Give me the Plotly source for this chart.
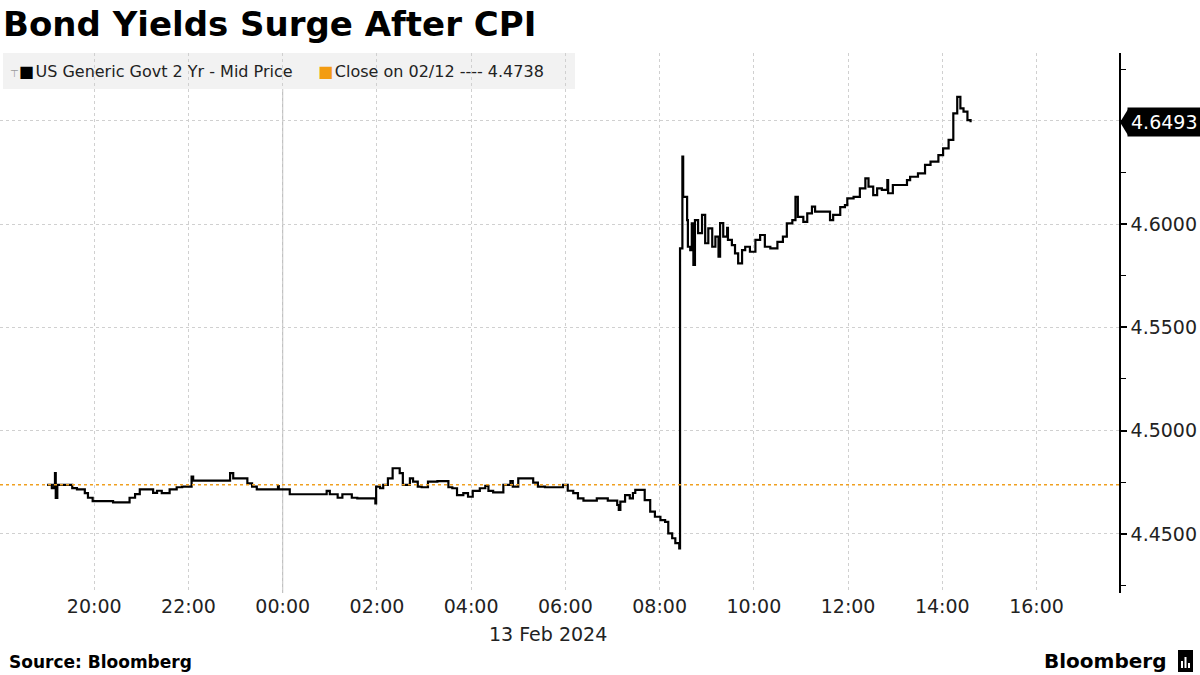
import plotly.graph_objects as go

# ---------------- data ----------------
times = [
    "19:00", "19:06", "19:09", "19:10", "19:11", "19:13", "19:32", "19:38", "19:48", "19:52",
    "19:58", "20:24", "20:45", "20:52", "20:58", "21:15", "21:20", "21:26", "21:36", "21:45",
    "21:52", "22:04", "22:06", "22:53", "22:57", "23:15", "23:21", "23:27", "23:54", "23:55",
    "00:09", "00:56", "01:00", "01:10", "01:16", "01:28", "01:35", "01:58", "01:59", "02:04",
    "02:08", "02:14", "02:20", "02:29", "02:33", "02:42", "02:46", "02:52", "02:57", "03:05",
    "03:17", "03:31", "03:36", "03:42", "03:50", "03:56", "04:02", "04:11", "04:18", "04:22",
    "04:28", "04:41", "04:50", "04:53", "05:00", "05:19", "05:25", "05:34", "05:57", "06:03",
    "06:10", "06:16", "06:23", "06:40", "06:54", "07:06", "07:08", "07:10", "07:16", "07:22",
    "07:26", "07:29", "07:41", "07:48", "07:54", "08:01", "08:07", "08:11", "08:16", "08:20",
    "08:25", "08:26", "08:29", "08:30", "08:35", "08:36", "08:39", "08:41", "08:43", "08:45",
    "08:49", "08:54", "08:58", "09:02", "09:07", "09:11", "09:15", "09:17", "09:21", "09:26",
    "09:27", "09:32", "09:36", "09:40", "09:45", "09:49", "09:55", "10:02", "10:08", "10:14",
    "10:21", "10:30", "10:37", "10:42", "10:49", "10:53", "10:56", "11:03", "11:08", "11:14",
    "11:18", "11:37", "11:41", "11:50", "11:56", "11:59", "12:07", "12:15", "12:22", "12:26",
    "12:32", "12:37", "12:43", "12:50", "12:51", "12:57", "13:15", "13:19", "13:29", "13:38",
    "13:45", "13:55", "14:01", "14:08", "14:14", "14:19", "14:23", "14:27", "14:32", "14:36",
]
yields = [
    4.4737, 4.4722, 4.4737, 4.4795, 4.4674, 4.4737, 4.4722, 4.4716, 4.4697, 4.4675,
    4.4659, 4.4653, 4.4675, 4.4693, 4.4716, 4.4699, 4.4709, 4.4697, 4.4716, 4.4726,
    4.4729, 4.4777, 4.4758, 4.4794, 4.4769, 4.4745, 4.4729, 4.4716, 4.4732, 4.4716,
    4.4692, 4.4708, 4.4692, 4.4675, 4.4692, 4.4675, 4.4672, 4.4648, 4.4729, 4.4721,
    4.4737, 4.4769, 4.4818, 4.4794, 4.4737, 4.4769, 4.4753, 4.4729, 4.4726, 4.4753,
    4.4756, 4.4726, 4.4721, 4.4688, 4.4697, 4.4680, 4.4708, 4.4721, 4.4733, 4.4708,
    4.4701, 4.4737, 4.4756, 4.4729, 4.4769, 4.4748, 4.4729, 4.4726, 4.4737, 4.4709,
    4.4697, 4.4672, 4.4661, 4.4672, 4.4661, 4.4640, 4.4616, 4.4656, 4.4688, 4.4672,
    4.4698, 4.4713, 4.4664, 4.4608, 4.4583, 4.4567, 4.4558, 4.4503, 4.4479, 4.4455,
    4.4430, 4.5882, 4.6326, 4.6132, 4.6019, 4.5890, 4.5874, 4.6003, 4.5802, 4.6019,
    4.5956, 4.6044, 4.5907, 4.5979, 4.5890, 4.5939, 4.5842, 4.6005, 4.5939, 4.5981,
    4.5923, 4.5898, 4.5858, 4.5810, 4.5874, 4.5890, 4.5866, 4.5923, 4.5947, 4.5890,
    4.5882, 4.5914, 4.5939, 4.6003, 4.6019, 4.6132, 4.6035, 4.6011, 4.6052, 4.6084,
    4.6060, 4.6019, 4.6044, 4.6082, 4.6092, 4.6124, 4.6132, 4.6173, 4.6221, 4.6181,
    4.6140, 4.6173, 4.6165, 4.6213, 4.6149, 4.6189, 4.6213, 4.6229, 4.6245, 4.6286,
    4.6302, 4.6334, 4.6366, 4.6407, 4.6536, 4.6616, 4.6560, 4.6544, 4.6503, 4.6493,
]
prev_close = 4.4738
last_value = 4.6493
series_name = "US Generic Govt 2 Yr - Mid Price"
close_label = "Close on 02/12 ---- 4.4738"
x_tick_times = ["2024-02-12 20:00", "2024-02-12 22:00", "2024-02-13 00:00", "2024-02-13 02:00",
                "2024-02-13 04:00", "2024-02-13 06:00", "2024-02-13 08:00", "2024-02-13 10:00",
                "2024-02-13 12:00", "2024-02-13 14:00", "2024-02-13 16:00"]
y_major_ticks = [4.45, 4.50, 4.55, 4.60, 4.65]
x_range = ["2024-02-12 18:00", "2024-02-13 17:45"]
y_range = [4.4214, 4.6828]
date_label = "13 Feb 2024"
title = "Bond Yields Surge After CPI"
source = "Source: Bloomberg"

# timestamps: evening hours belong to 12 Feb, the rest to 13 Feb
stamps = [("2024-02-12 " if int(t[:2]) >= 18 else "2024-02-13 ") + t for t in times]

W, H = 1200, 675
ML, MR, MT, MB = 0, 81, 53, 82
PW, PH = W - ML - MR, H - MT - MB

fig = go.Figure()
fig.add_trace(go.Scatter(
    x=stamps, y=yields, mode="lines", line=dict(color="black", width=2.2, shape="hv"),
    name=series_name, showlegend=False, hoverinfo="x+y",
))

AX_FONT = "DejaVu Sans"
fig.update_layout(
    width=W, height=H,
    margin=dict(l=ML, r=MR, t=MT, b=MB),
    paper_bgcolor="white", plot_bgcolor="white",
    showlegend=False,
    title=dict(text=f"<b>{title}</b>", x=3 / W, xanchor="left", y=1 - 24 / H, yanchor="middle",
               font=dict(family="DejaVu Sans", size=34, color="black")),
    xaxis=dict(
        type="date", range=x_range, tickmode="array", tickvals=x_tick_times,
        tickformat="%H:%M", showgrid=True, gridcolor="#d0d0d0", griddash="dot", gridwidth=1,
        showline=False, zeroline=False, ticks="",
        tickfont=dict(family="DejaVu Sans", size=19, color="#222"),
    ),
    yaxis=dict(
        side="right", range=y_range, tickmode="array", tickvals=y_major_ticks,
        ticktext=[f"{v:.4f}" for v in y_major_ticks],
        showgrid=True, gridcolor="#d0d0d0", griddash="dot", gridwidth=1,
        showline=True, linecolor="black", linewidth=1.5, zeroline=False,
        ticks="outside", ticklen=6, tickcolor="black", tickwidth=1.5,
        minor=dict(ticks="outside", ticklen=5, tickcolor="black", tickwidth=1,
                   tick0=4.425, dtick=0.05, showgrid=False),
        tickfont=dict(family=AX_FONT, size=19, color="#222"),
    ),
)

# solid day boundary line
fig.add_shape(type="line", xref="x", yref="paper", x0="2024-02-13 00:00", x1="2024-02-13 00:00",
              y0=0, y1=1, line=dict(color="#b4b4b4", width=1), layer="below")

# previous close dotted line
fig.add_shape(type="line", xref="paper", yref="y", x0=0, x1=1, y0=prev_close, y1=prev_close,
              line=dict(color="#f0a020", width=1.6, dash="dot"), layer="above")

# legend background box
def px_to_py(ypx):
    return (H - MB - ypx) / PH

fig.add_shape(type="rect", xref="paper", yref="paper", x0=3 / PW, x1=575 / PW,
              y0=px_to_py(89), y1=px_to_py(53), fillcolor="#f2f2f2", line=dict(width=0), layer="below")

legend_text = (f'<span style="color:#9a9a9a;font-size:10px">⊤</span>'
               f'<span style="color:black">■</span>&#8202;{series_name}&nbsp;&nbsp;&nbsp;&nbsp;&nbsp;'
               f'<span style="color:#f39c12">■</span>&#8202;{close_label}')
fig.add_annotation(text=legend_text, xref="paper", yref="paper", x=8 / PW, y=px_to_py(71),
                   xanchor="left", yanchor="middle", showarrow=False,
                   font=dict(family="DejaVu Sans", size=16, color="#222"))

# last value marker box
dy = 13 * (y_range[1] - y_range[0]) / PH
fig.add_shape(type="path", xref="paper", yref="y",
              path=f"M {1 + 1 / PW},{last_value} L {1 + 9 / PW},{last_value + dy} "
                   f"L {1 + 9 / PW},{last_value - dy} Z",
              fillcolor="black", line=dict(width=0))
fig.add_annotation(text=f"{last_value:.4f}", xref="paper", yref="y", x=1 + 8 / PW, y=last_value,
                   xanchor="left", yanchor="middle", showarrow=False, bgcolor="black",
                   borderpad=3, font=dict(family=AX_FONT, size=19, color="white"))

# date label under axis
fig.add_annotation(text=date_label, xref="paper", yref="paper", x=548 / PW, y=px_to_py(634),
                   xanchor="center", yanchor="middle", showarrow=False,
                   font=dict(family="DejaVu Sans", size=19, color="#222"))

# source
fig.add_annotation(text=f"<b>{source}</b>", xref="paper", yref="paper", x=7 / PW, y=px_to_py(662),
                   xanchor="left", yanchor="middle", showarrow=False,
                   font=dict(family="DejaVu Sans", size=17, color="black"))

# Bloomberg logo text + icon
fig.add_annotation(text="<b>Bloomberg</b>", xref="paper", yref="paper", x=1168 / PW, y=px_to_py(661),
                   xanchor="right", yanchor="middle", showarrow=False,
                   font=dict(family="DejaVu Sans", size=20, color="black"))
fig.add_shape(type="rect", xref="paper", yref="paper", x0=1178 / PW, x1=1193 / PW,
              y0=px_to_py(672), y1=px_to_py(650), fillcolor="black", line=dict(width=0))
for bx, btop in [(1182, 661), (1185.5, 657), (1189, 663)]:
    fig.add_shape(type="line", xref="paper", yref="paper", x0=bx / PW, x1=bx / PW,
                  y0=px_to_py(668), y1=px_to_py(btop), line=dict(color="white", width=2))

fig.write_html("out.html", config={"displayModeBar": False},
               post_script="document.body.style.margin='0';document.body.style.overflow='hidden';")
